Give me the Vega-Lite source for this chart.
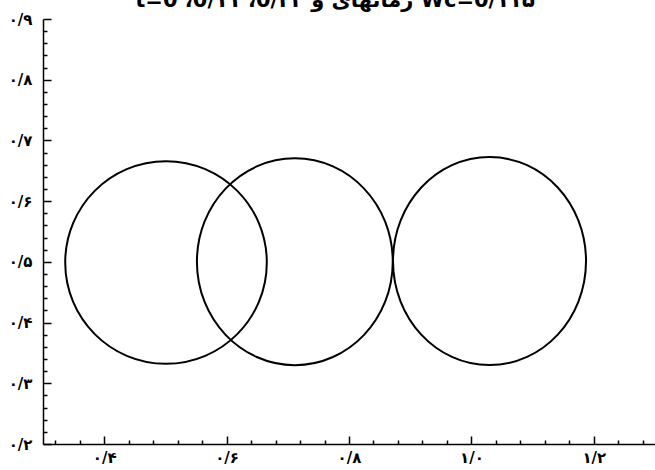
{
  "$schema": "https://vega.github.io/schema/vega-lite/v6.json",
  "width": 612,
  "height": 425,
  "autosize": {"type": "none"},
  "padding": {"left": 43, "top": 19, "right": 0, "bottom": 26},
  "background": "white",
  "config": {
    "view": {"stroke": null},
    "axis": {
      "grid": false,
      "domainColor": "black",
      "domainWidth": 1.5,
      "tickColor": "black",
      "tickWidth": 1.5,
      "labelFont": "DejaVu Sans",
      "labelFontSize": 15,
      "labelFontWeight": "bold",
      "labelColor": "black",
      "labelFlush": false,
      "labelOverlap": false,
      "title": null
    }
  },
  "title": {
    "text": "t=0 ،0/۱۱ ،0/۲۲ زمانهای و Wc=0/۱۱۵",
    "font": "DejaVu Sans",
    "fontSize": 21,
    "fontWeight": "bold",
    "color": "black",
    "baseline": "alphabetic",
    "offset": 0,
    "dy": 16,
    "dx": -14,
    "anchor": "middle"
  },
  "data": {
    "values": [
      {"circle": "a", "cx": 0.501, "cy": 0.499, "rx": 0.1647, "ry": 0.1656},
      {"circle": "b", "cx": 0.7115, "cy": 0.5002, "rx": 0.160, "ry": 0.1705},
      {"circle": "c", "cx": 1.0296, "cy": 0.5013, "rx": 0.1577, "ry": 0.1713}
    ]
  },
  "resolve": {"axis": {"x": "independent", "y": "independent"}},
  "layer": [
    {
      "mark": {"type": "point", "filled": false, "stroke": "black", "strokeWidth": 2, "opacity": 0},
      "encoding": {
        "x": {
          "field": "cx",
          "type": "quantitative",
          "scale": {"domain": [0.3, 1.3], "nice": false, "zero": false},
          "axis": {
            "orient": "bottom",
            "values": [0.32, 0.36, 0.44, 0.48, 0.52, 0.56, 0.64, 0.68, 0.72, 0.76, 0.84, 0.88, 0.92, 0.96, 1.04, 1.08, 1.12, 1.16, 1.24, 1.28],
            "labels": false,
            "tickSize": -4,
            "domain": false
          }
        },
        "y": {
          "field": "cy",
          "type": "quantitative",
          "scale": {"domain": [0.2, 0.9], "nice": false, "zero": false},
          "axis": {
            "orient": "left",
            "values": [0.22, 0.24, 0.26, 0.28, 0.32, 0.34, 0.36, 0.38, 0.42, 0.44, 0.46, 0.48, 0.52, 0.54, 0.56, 0.58, 0.62, 0.64, 0.66, 0.68, 0.72, 0.74, 0.76, 0.78, 0.82, 0.84, 0.86, 0.88],
            "labels": false,
            "tickSize": -4,
            "domain": false
          }
        }
      }
    },
    {
      "mark": {"type": "point", "filled": false, "stroke": "black", "strokeWidth": 2, "opacity": 1},
      "encoding": {
        "x": {
          "field": "cx",
          "type": "quantitative",
          "axis": {
            "orient": "bottom",
            "values": [0.4, 0.6, 0.8, 1.0, 1.2],
            "labelExpr": "replace(replace(replace(replace(replace(replace(replace(format(datum.value, '.1f'), '.', '/'), '0', '۰'), '1', '۱'), '2', '۲'), '4', '۴'), '6', '۶'), '8', '۸')",
            "tickSize": -8,
            "labelPadding": 14
          }
        },
        "y": {
          "field": "cy",
          "type": "quantitative",
          "axis": {
            "orient": "left",
            "values": [0.2, 0.3, 0.4, 0.5, 0.6, 0.7, 0.8, 0.9],
            "labelExpr": "replace(replace(replace(replace(replace(replace(replace(replace(replace(replace(format(datum.value, '.1f'), '.', '/'), '0', '۰'), '2', '۲'), '3', '۳'), '4', '۴'), '5', '۵'), '6', '۶'), '7', '۷'), '8', '۸'), '9', '۹')",
            "tickSize": -8,
            "labelPadding": 19
          }
        },
        "size": {
          "field": "rx",
          "type": "quantitative",
          "scale": {"type": "pow", "exponent": 2, "domain": [0, 1], "range": [0, 1498176]},
          "legend": null
        },
        "shape": {
          "field": "circle",
          "type": "nominal",
          "scale": {
            "domain": ["a", "b", "c"],
            "range": [
              "M-1,0A1,1.005,0,1,1,1,0A1,1.005,0,1,1,-1,0Z",
              "M-1,0A1,1.056,0,1,1,1,0A1,1.056,0,1,1,-1,0Z",
              "M-1,0A1,1.078,0,1,1,1,0A1,1.078,0,1,1,-1,0Z"
            ]
          },
          "legend": null
        }
      }
    }
  ]
}
